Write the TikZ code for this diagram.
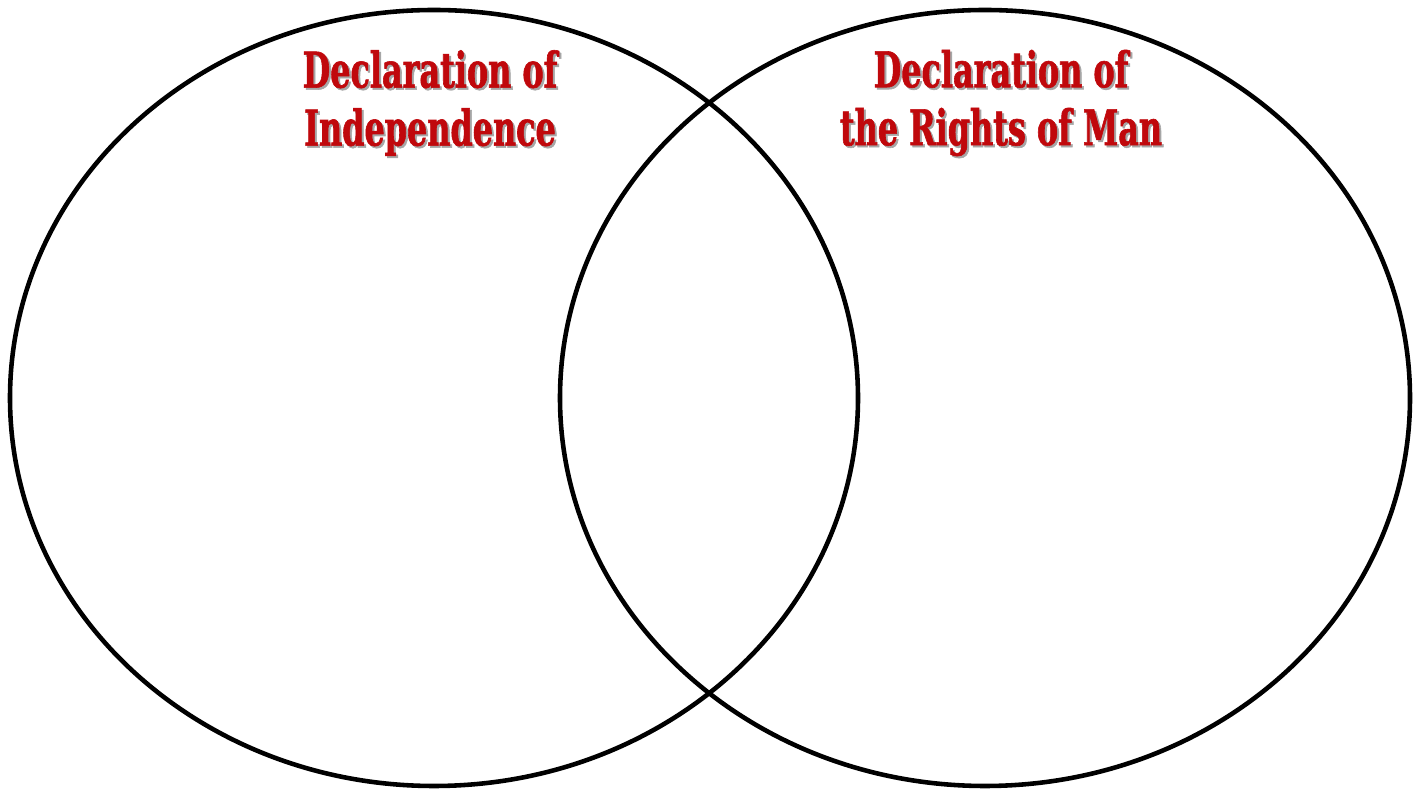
\documentclass[tikz,border=0pt]{standalone}
\usepackage{fontspec}
\newfontfamily\titlefont[FakeStretch=0.72, FakeBold=1.2]{DejaVu Serif Condensed Bold}
\definecolor{titlered}{RGB}{192,8,12}
\begin{document}
\begin{tikzpicture}[
    x=0.02cm, y=0.02cm,
    circ/.style={draw=black, line width=2.6pt},
    title/.style={font=\titlefont\fontsize{28}{33}\selectfont, align=center, inner sep=0pt},
    titleshadow/.style={title, text=black!35}
  ]
  \useasboundingbox (0,0) rectangle (1421,794);

  % the two sets
  \coordinate (decl) at (434,396);
  \coordinate (rights) at (985,396);
  \draw[circ] (decl) ellipse [x radius=424, y radius=388];
  \draw[circ] (rights) ellipse [x radius=425, y radius=388];

  % headings
  \node[titleshadow] (declshadow) at (432,689) {Declaration of\\Independence};
  \node[title, text=titlered] (decltitle) at (430,691) {Declaration of\\Independence};
  \node[titleshadow] (rightsshadow) at (1003,689) {Declaration of\\the Rights of Man};
  \node[title, text=titlered] (rightstitle) at (1001,691) {Declaration of\\the Rights of Man};

\end{tikzpicture}
\end{document}
